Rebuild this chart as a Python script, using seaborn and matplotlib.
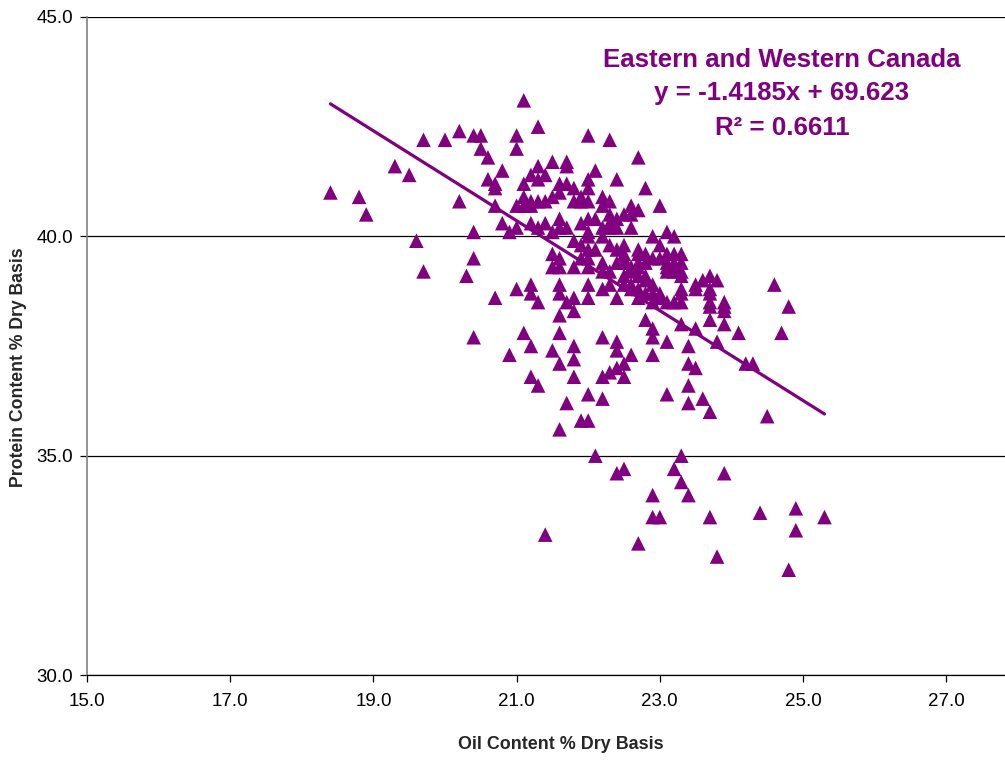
import numpy as np
import pandas as pd
import matplotlib
matplotlib.use("Agg")
import matplotlib.pyplot as plt
from matplotlib.ticker import FormatStrFormatter
import seaborn as sns

# ---- data ----
points = [
    # left, sparse
    (18.4, 41.0), (18.8, 40.9), (18.9, 40.5), (19.3, 41.6), (19.5, 41.4), (19.6, 39.9),
    (19.7, 42.2), (19.7, 39.2), (20.0, 42.2), (20.2, 42.4), (20.2, 40.8), (20.3, 39.1),
    (20.4, 42.3), (20.5, 42.3), (20.5, 42.0), (20.6, 41.8), (20.4, 40.1), (20.4, 39.5),
    (20.4, 37.7), (20.8, 41.5), (20.6, 41.3), (20.7, 41.2), (20.7, 41.1), (20.7, 40.7),
    (20.8, 40.3), (20.7, 38.6), (21.0, 42.3), (21.0, 42.0), (21.1, 43.1), (21.3, 42.5),
    (20.9, 40.1), (21.0, 40.2), (21.0, 38.8), (21.2, 38.9), (21.2, 38.7), (20.9, 37.3),
    (21.1, 37.8), (21.2, 37.5), (21.2, 36.8), (21.3, 36.6), (21.4, 33.2), (21.3, 38.5),
    # dense cluster, upper part
    (21.3, 41.6), (21.5, 41.7), (21.7, 41.7), (21.7, 41.6), (22.1, 41.5), (22.4, 41.3),
    (21.2, 41.4), (21.4, 41.4), (21.3, 41.3), (21.1, 41.2), (21.6, 41.2), (21.7, 41.2),
    (21.8, 41.1), (22.0, 41.3), (22.0, 41.1), (22.2, 40.9), (22.3, 40.8),
    (21.1, 40.9), (21.2, 40.8), (21.0, 40.7), (21.1, 40.7), (21.2, 40.7), (21.3, 40.8),
    (21.4, 40.8), (21.5, 40.9), (21.6, 41.0), (21.8, 40.8), (21.9, 40.9), (21.9, 40.8),
    (22.0, 40.8), (22.2, 40.7), (22.3, 40.5), (22.4, 40.4), (22.5, 40.5),
    (21.2, 40.3), (21.3, 40.2), (21.4, 40.3), (21.6, 40.4), (21.6, 40.2), (21.7, 40.2),
    (21.9, 40.3), (22.0, 40.4), (22.0, 40.1), (22.0, 40.0), (22.1, 40.4), (22.2, 40.2),
    (22.3, 40.2), (21.5, 40.1), (21.8, 39.9), (21.9, 39.8), (22.0, 39.7), (22.1, 39.7),
    (22.3, 39.8), (22.4, 39.7), (22.5, 39.6), (21.5, 39.6), (21.6, 39.5), (21.5, 39.3),
    (21.6, 39.3), (21.8, 39.3), (21.9, 39.5), (22.0, 39.5), (22.0, 39.3), (22.2, 39.4),
    (22.2, 39.2), (22.3, 39.2), (22.4, 39.4), (21.6, 38.9), (22.0, 38.9), (22.2, 38.8),
    (22.3, 38.9), (22.0, 42.3), (22.3, 42.2), (22.7, 41.8), (22.8, 41.1), (23.0, 40.7),
    # dense cluster, right part
    (22.6, 40.7), (22.7, 40.6), (22.6, 40.5), (22.6, 40.2), (22.3, 40.3), (22.4, 40.2),
    (22.2, 40.0), (22.9, 40.0), (23.1, 40.1), (23.2, 40.0), (23.0, 39.8), (22.5, 39.8),
    (22.5, 39.5), (22.7, 39.7), (22.8, 39.6), (22.9, 39.5), (23.1, 39.6), (23.2, 39.6),
    (23.3, 39.6), (23.1, 39.4), (23.2, 39.4), (23.3, 39.4), (23.3, 39.2), (23.2, 39.2),
    (23.1, 39.2), (22.5, 39.4), (22.7, 39.4), (22.6, 39.2), (22.7, 39.3), (22.8, 39.1),
    (22.5, 39.1), (22.5, 38.9), (22.6, 38.9), (22.8, 39.0), (22.7, 38.8), (22.9, 38.7),
    (23.0, 38.7), (23.1, 38.5), (23.3, 38.8), (23.5, 38.9), (23.7, 39.1), (23.8, 39.0),
    (23.7, 38.8), (23.7, 38.5), (23.9, 38.5), (22.7, 39.6), (22.8, 39.4), (23.0, 39.5),
    (23.1, 39.3), (23.2, 39.3), (23.3, 39.1), (22.6, 39.3), (22.7, 39.1), (22.9, 38.9),
    (22.6, 38.8), (22.8, 38.7), (22.4, 38.6), (22.7, 38.6), (23.6, 39.0),
    # middle and lower part
    (21.6, 38.7), (21.7, 38.5), (21.8, 38.6), (22.0, 38.6), (21.6, 38.2), (21.8, 38.3),
    (21.6, 37.8), (21.5, 37.4), (21.8, 37.5), (21.6, 37.1), (21.8, 37.2), (21.8, 36.8),
    (22.2, 37.7), (22.4, 37.6), (22.4, 37.4), (22.6, 37.3), (22.5, 37.1), (22.4, 37.0),
    (22.3, 36.9), (22.2, 36.8), (22.5, 36.8), (22.0, 36.4), (22.2, 36.3), (21.7, 36.2),
    (21.9, 35.8), (22.0, 35.8), (21.6, 35.6), (22.1, 35.0), (22.4, 34.6), (22.5, 34.7),
    (22.7, 33.0), (22.9, 34.1), (22.9, 33.6), (23.0, 33.6), (23.3, 35.0), (23.2, 34.7),
    (23.3, 34.4), (23.4, 34.1), (23.7, 33.6), (23.9, 34.6), (23.8, 32.7), (24.4, 33.7),
    (24.9, 33.8), (24.9, 33.3), (25.3, 33.6), (24.8, 32.4), (24.5, 35.9), (22.9, 37.3),
    (23.1, 37.6), (23.4, 37.5), (23.4, 37.1), (23.5, 37.0), (23.4, 36.6), (23.1, 36.4),
    (23.4, 36.2), (23.6, 36.3), (23.7, 36.0), (22.8, 38.1), (22.9, 37.9), (22.9, 37.7),
    (23.3, 38.0), (23.5, 37.9), (23.8, 37.6), (24.2, 37.1), (24.3, 37.1), (23.7, 38.4),
    (23.7, 38.1), (23.9, 38.4), (23.9, 38.3), (23.9, 38.0), (24.1, 37.8), (24.8, 38.4),
    (24.7, 37.8), (24.6, 38.9), (22.9, 38.5), (23.0, 38.6), (23.2, 38.5), (23.3, 38.7),
    (23.3, 38.5), (23.5, 38.8), (23.7, 38.7),
]
oil = [p[0] for p in points]
protein = [p[1] for p in points]

# trend line as drawn in the picture (end points)
trend_oil = [18.4, 25.3]
trend_protein = [43.02, 35.95]

x_ticks = [15.0, 17.0, 19.0, 21.0, 23.0, 25.0, 27.0]
y_ticks = [30.0, 35.0, 40.0, 45.0]

title_lines = ["Eastern and Western Canada", "y = -1.4185x + 69.623", "R\u00b2 = 0.6611"]
x_label = "Oil Content % Dry Basis"
y_label = "Protein Content % Dry Basis"
purple = "#800080"

# ---- plot ----
sns.set_theme(style="white")
plt.rcParams['font.family'] = ['Liberation Sans', 'DejaVu Sans']

fig = plt.figure(figsize=(10.05, 7.61), dpi=100)
ax = fig.add_axes([87 / 1005, 1 - 675 / 761, 13 * 71.6 / 1005, 658 / 761])

df = pd.DataFrame({"oil": oil, "protein": protein})
sns.scatterplot(data=df, x="oil", y="protein", marker="^", s=110, color=purple,
                edgecolor="none", linewidth=0, ax=ax, zorder=3)
trend = pd.DataFrame({"oil": trend_oil, "protein": trend_protein})
sns.lineplot(data=trend, x="oil", y="protein", color=purple, linewidth=2.3,
             ax=ax, zorder=4, estimator=None, sort=False)

ax.set_xlim(15, 28)
ax.set_ylim(30, 45)
ax.set_xticks(x_ticks)
ax.set_yticks(y_ticks)
ax.xaxis.set_major_formatter(FormatStrFormatter("%.1f"))
ax.yaxis.set_major_formatter(FormatStrFormatter("%.1f"))
ax.tick_params(axis="both", direction="out", length=5, width=0.9, color="black",
               labelsize=13.5, labelcolor="black")
ax.tick_params(axis="x", pad=8, bottom=True)
ax.tick_params(axis="y", pad=5, left=True)

ax.yaxis.grid(True, color="black", linewidth=0.9)
ax.xaxis.grid(False)
ax.set_axisbelow(True)
for s in ["top", "right"]:
    ax.spines[s].set_visible(False)
ax.spines["left"].set_color("#808080")
ax.spines["left"].set_linewidth(1.2)
ax.spines["bottom"].set_color("black")
ax.spines["bottom"].set_linewidth(0.9)

ax.set_xlabel(x_label, fontsize=12.9, fontweight="bold", va="center")
ax.xaxis.set_label_coords(0.509, -0.106)
ax.set_ylabel(y_label, fontsize=12.7, fontweight="bold", va="center", ha="center")
ax.yaxis.set_label_coords(-0.0741, 0.468)

ys = [0.921, 0.878, 0.832]
for t, yy in zip(title_lines, ys):
    fig.text(0.778, yy, t, ha="center", va="center", color=purple,
             fontsize=18.6, fontweight="bold")

fig.savefig("out.png", dpi=100)
